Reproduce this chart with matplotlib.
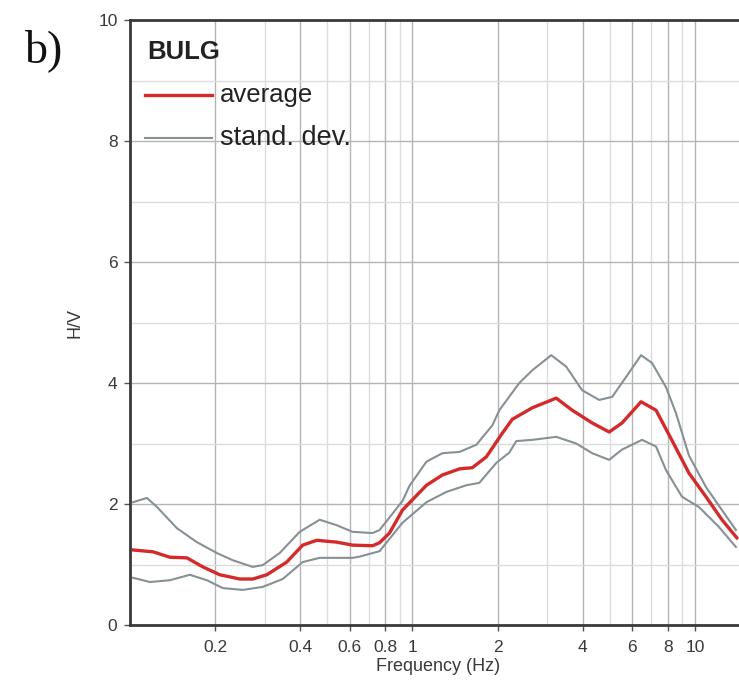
import numpy as np
import matplotlib
matplotlib.use("Agg")
import matplotlib.pyplot as plt
from matplotlib.ticker import FixedLocator, NullFormatter

plt.rcParams['font.family'] = ['Liberation Sans', 'DejaVu Sans']

# H/V spectral ratio, station BULG
freq_avg = [0.1025, 0.1206, 0.1384, 0.159, 0.1811, 0.208, 0.2447, 0.272, 0.3049,
            0.3587, 0.4087, 0.458, 0.5387, 0.6137, 0.7223, 0.7646, 0.829, 0.9219,
            1.1208, 1.2764, 1.466, 1.6293, 1.8262, 2.0797, 2.2563, 2.6546, 3.2275,
            3.677, 4.3251, 4.9683, 5.5208, 6.4446, 7.2808, 8.2931, 9.5236, 10.94,
            12.46, 14.07]
hv_avg = [1.24, 1.21, 1.12, 1.11, 0.96, 0.83, 0.76, 0.76, 0.83,
          1.04, 1.32, 1.40, 1.37, 1.32, 1.31, 1.36, 1.52, 1.90,
          2.31, 2.48, 2.58, 2.60, 2.78, 3.17, 3.40, 3.59, 3.75,
          3.55, 3.34, 3.19, 3.34, 3.69, 3.55, 3.05, 2.51, 2.12,
          1.74, 1.44]

freq_up = [0.1025, 0.1148, 0.1246, 0.1466, 0.1724, 0.2029, 0.2312, 0.272, 0.2951,
           0.3388, 0.3988, 0.4693, 0.5387, 0.6137, 0.7223, 0.7646, 0.9219, 0.9759,
           1.1208, 1.2764, 1.466, 1.6831, 1.9176, 2.0299, 2.3883, 2.6546, 3.0986,
           3.5016, 3.9875, 4.5803, 5.0911, 5.704, 6.4446, 7.0484, 7.8985, 8.5686,
           9.5236, 10.94, 12.46, 13.96]
hv_up = [2.03, 2.10, 1.95, 1.60, 1.37, 1.19, 1.07, 0.96, 0.99,
         1.19, 1.54, 1.74, 1.65, 1.54, 1.52, 1.57, 2.05, 2.30,
         2.70, 2.84, 2.86, 2.98, 3.30, 3.55, 4.00, 4.21, 4.46,
         4.27, 3.88, 3.72, 3.77, 4.10, 4.46, 4.33, 3.93, 3.50,
         2.80, 2.28, 1.90, 1.57]

freq_lo = [0.1025, 0.1177, 0.1384, 0.1629, 0.1871, 0.2132, 0.2507, 0.2951, 0.3472,
           0.4087, 0.4693, 0.6137, 0.6497, 0.7646, 0.9219, 1.1208, 1.3186, 1.5515,
           1.7249, 1.981, 2.2018, 2.3306, 2.6546, 3.2275, 3.7986, 4.3251, 4.9683,
           5.5208, 6.4968, 7.2808, 7.8985, 8.9967, 10.33, 12.16, 13.96]
hv_lo = [0.78, 0.71, 0.74, 0.83, 0.74, 0.61, 0.58, 0.63, 0.76,
         1.04, 1.11, 1.11, 1.13, 1.22, 1.69, 2.03, 2.20, 2.31,
         2.35, 2.68, 2.85, 3.04, 3.06, 3.11, 3.00, 2.84, 2.73,
         2.90, 3.06, 2.95, 2.56, 2.12, 1.95, 1.62, 1.29]

xtick_major = [0.2, 0.4, 0.6, 0.8, 1, 2, 4, 6, 8, 10]
xtick_labels = ['0.2', '0.4', '0.6', '0.8', '1', '2', '4', '6', '8', '10']
xtick_minor = [0.3, 0.5, 0.7, 0.9, 3, 5, 7, 9]

W, H = 739, 687
fig = plt.figure(figsize=(W / 100, H / 100), dpi=100)
# axis runs on past the right edge of the figure
ax = fig.add_axes([130 / W, 62 / H, 650 / W, 605 / H])

ax.plot(freq_up, hv_up, color='#879094', lw=1.5)
ax.plot(freq_lo, hv_lo, color='#879094', lw=1.5)
ax.plot(freq_avg, hv_avg, color='#d42a2a', lw=2.4)

ax.set_xscale('log')
ax.set_xlim(0.1, 20)
ax.set_ylim(0, 10)

ax.xaxis.set_major_locator(FixedLocator(xtick_major))
ax.set_xticklabels(xtick_labels)
ax.xaxis.set_minor_locator(FixedLocator(xtick_minor))
ax.xaxis.set_minor_formatter(NullFormatter())
ax.set_yticks(np.arange(0, 11, 2))
ax.set_yticks(np.arange(1, 10, 2), minor=True)

ax.grid(which='major', color='#b4b4b4', lw=1.0)
ax.grid(which='minor', color='#dcdcdc', lw=1.0)
ax.set_axisbelow(True)

ax.tick_params(which='major', direction='out', length=4, width=1, color='#555555',
               labelsize=12.5, labelcolor='#3a3a3a')
ax.tick_params(axis='x', which='major', pad=7)
ax.tick_params(axis='y', which='major', pad=5)
ax.tick_params(which='minor', length=0)

for side in ['left', 'bottom', 'top']:
    ax.spines[side].set_color('#3a3a3a')
    ax.spines[side].set_linewidth(2)
ax.spines['right'].set_visible(False)

ax.set_xlabel('Frequency (Hz)', fontsize=13, color='#3a3a3a')
ax.xaxis.set_label_coords(0.474, -0.055)
ax.set_ylabel('H/V', fontsize=13, color='#3a3a3a')
ax.yaxis.set_label_coords(-0.072, 0.5)

# station name and key
ax.text(0.026, 0.947, 'BULG', transform=ax.transAxes, fontsize=18.5,
        fontweight='bold', va='center', ha='left', color='#222222')
ax.plot([0.023, 0.126], [0.876, 0.876], transform=ax.transAxes,
        color='#d42a2a', lw=2.4)
ax.plot([0.023, 0.126], [0.805, 0.805], transform=ax.transAxes,
        color='#879094', lw=1.5)
ax.text(0.138, 0.876, 'average', transform=ax.transAxes, fontsize=18.5,
        va='center', ha='left', color='#222222')
ax.text(0.138, 0.805, 'stand. dev.', transform=ax.transAxes, fontsize=19.5,
        va='center', ha='left', color='#222222')

fig.text(25 / W, 1 - 62 / H, 'b)', fontsize=33, family='Liberation Serif',
         va='baseline', ha='left', color='#111111')

fig.savefig('out.png', dpi=100)
